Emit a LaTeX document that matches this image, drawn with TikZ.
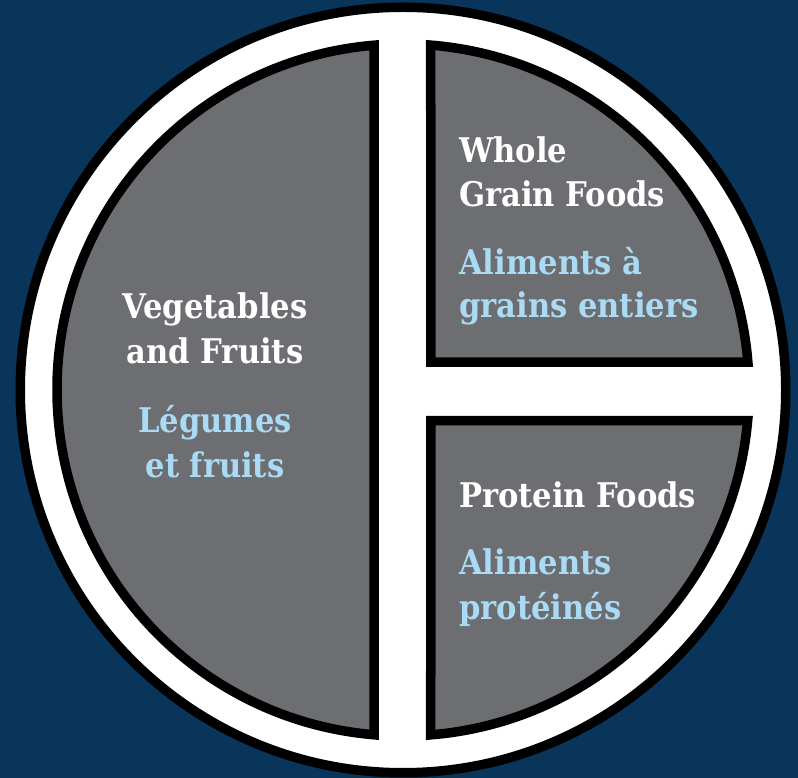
\documentclass[tikz,border=0pt]{standalone}
\usepackage{fontspec}
\newfontfamily\labelfont{DejaVu Serif Condensed}
\definecolor{bg}{RGB}{9,53,91}
\definecolor{seg}{RGB}{109,110,114}
\definecolor{lblue}{RGB}{170,219,245}
\begin{document}
\begin{tikzpicture}[x=1pt,y=1pt,
  ring/.style={fill=white,draw=black,line width=9.5pt},
  segment/.style={fill=seg,draw=black,line width=9.5pt,line join=miter},
  en/.style={inner sep=0pt,text=white,font=\labelfont\bfseries\fontsize{34}{40}\selectfont},
  fr/.style={inner sep=0pt,text=lblue,font=\labelfont\bfseries\fontsize{34}{40}\selectfont}]
\useasboundingbox (0,0) rectangle (798,778);
\fill[bg] (0,0) rectangle (798,778);
\begin{scope}[shift={(403,388)}]
  \draw[ring] (0,0) circle[radius=382.75];
  % left half
  \draw[segment] (94.77:346) arc[start angle=94.77, end angle=265.23, radius=346] -- cycle;
  % top right quarter
  \draw[segment] (27.75,27.75) -- (85.40:346) arc[start angle=85.40, end angle=4.60, radius=346] -- cycle;
  % bottom right quarter
  \draw[segment] (27.75,-30.75) -- (-5.10:346) arc[start angle=-5.10, end angle=-85.40, radius=346] -- cycle;
\end{scope}
% left texts
\node[en,anchor=base] (veg1) at (215,459) {Vegetables};
\node[en,anchor=base] (veg2) at (215,414) {and Fruits};
\node[fr,anchor=base] (leg1) at (215,345) {Légumes};
\node[fr,anchor=base] (leg2) at (215,300) {et fruits};
% top right texts
\node[en,anchor=base west] (whole1) at (459,615) {Whole};
\node[en,anchor=base west] (whole2) at (459,571) {Grain Foods};
\node[fr,anchor=base west] (alim1) at (459,503) {Aliments à};
\node[fr,anchor=base west] (alim2) at (459,460) {grains entiers};
% bottom right texts
\node[en,anchor=base west] (prot1) at (459,270) {Protein Foods};
\node[fr,anchor=base west] (prot2) at (459,203) {Aliments};
\node[fr,anchor=base west] (prot3) at (459,158) {protéinés};
\end{tikzpicture}
\end{document}
